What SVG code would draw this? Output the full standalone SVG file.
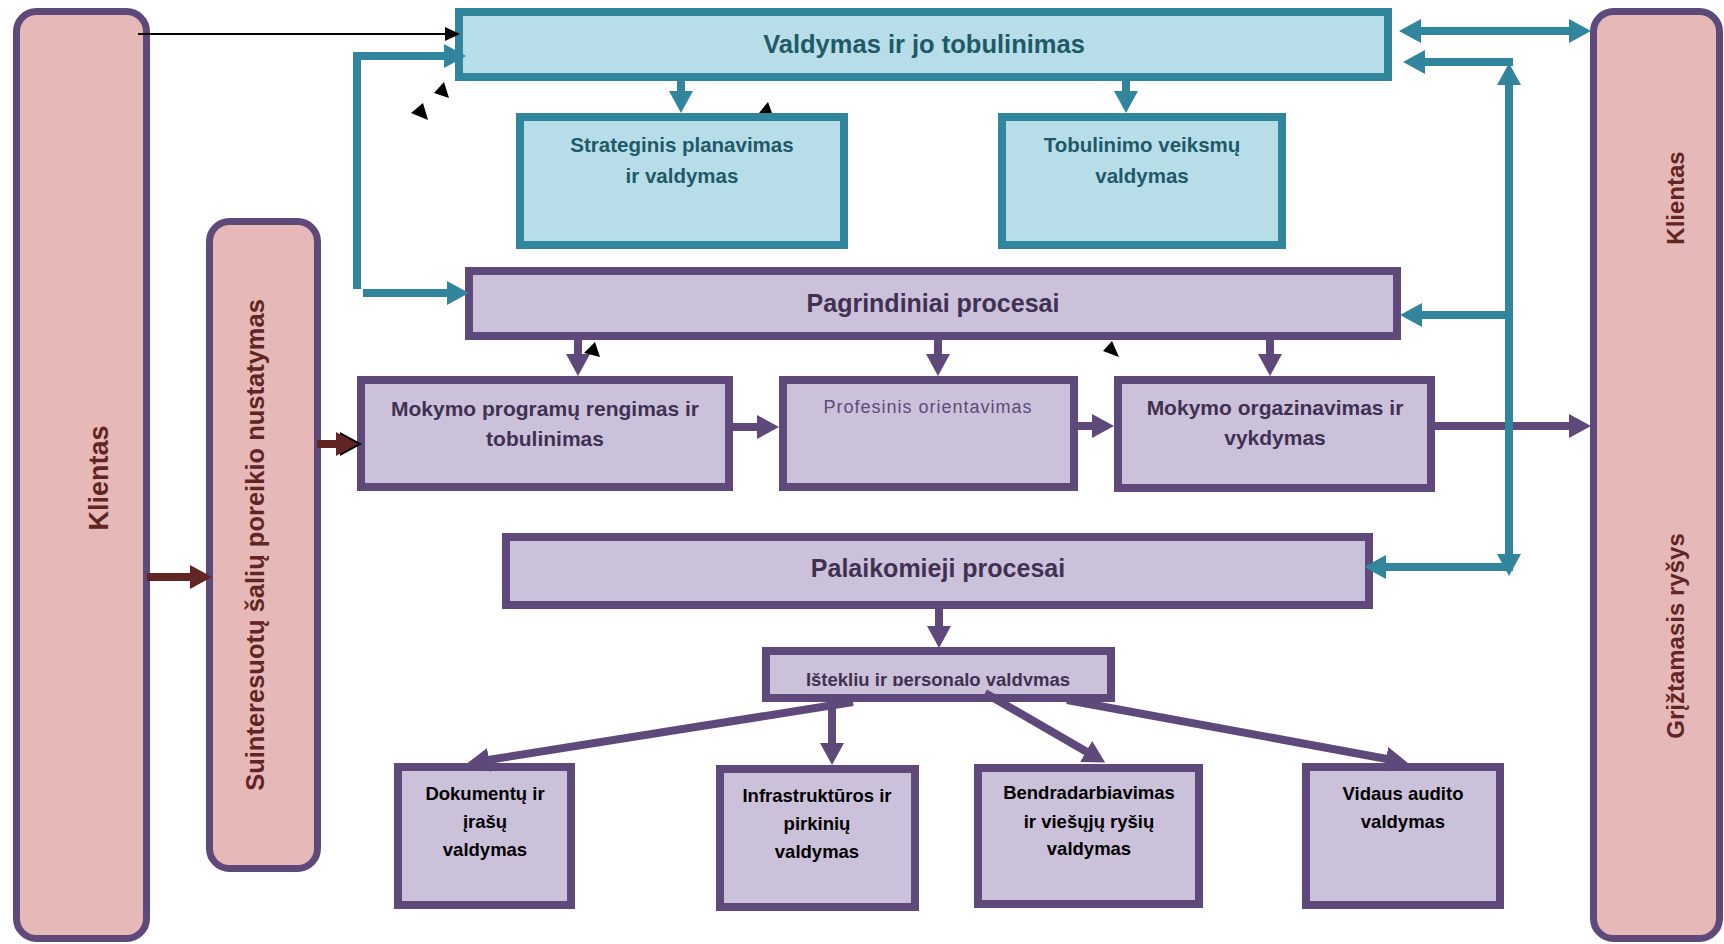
<svg xmlns="http://www.w3.org/2000/svg" width="1724" height="944" viewBox="0 0 1724 944">
<style>
text{font-family:"Liberation Sans",Arial,sans-serif;font-weight:bold;text-anchor:middle}
.tealbox{fill:#B7DEE8;stroke:#31859C;stroke-width:8}
.purbox{fill:#CCC1DA;stroke:#5F497A;stroke-width:8}
.pink{fill:#E6B9B8;stroke:#5F497A;stroke-width:7}
.tt{fill:#215968}
.pt{fill:#403152}
.bt{fill:#000000;font-size:18.5px}
.rt{fill:#632523}
.ct{fill:none;stroke:#31859C;stroke-width:8}
.cp{fill:none;stroke:#5F497A;stroke-width:8}
.cr{fill:none;stroke:#632523;stroke-width:8}
.cb{fill:none;stroke:#000000;stroke-width:2}
</style>
<defs>
<marker id="mt" viewBox="0 0 22 24" markerWidth="22" markerHeight="24" refX="1" refY="12" orient="auto-start-reverse" markerUnits="userSpaceOnUse"><path d="M0,0 L22,12 L0,24 Z" fill="#31859C"/></marker>
<marker id="mp" viewBox="0 0 22 24" markerWidth="22" markerHeight="24" refX="1" refY="12" orient="auto-start-reverse" markerUnits="userSpaceOnUse"><path d="M0,0 L22,12 L0,24 Z" fill="#5F497A"/></marker>
<marker id="mr" viewBox="0 0 22 24" markerWidth="22" markerHeight="24" refX="1" refY="12" orient="auto-start-reverse" markerUnits="userSpaceOnUse"><path d="M0,0 L22,12 L0,24 Z" fill="#632523"/></marker>
<marker id="mb" viewBox="0 0 15 14" markerWidth="15" markerHeight="14" refX="1" refY="7" orient="auto" markerUnits="userSpaceOnUse"><path d="M0,0 L15,7 L0,14 Z" fill="#000000"/></marker>
<clipPath id="clipIst"><rect x="766" y="651" width="345" height="35"/></clipPath>
</defs>

<g id="klientas-left">
<rect class="pink" x="16.5" y="11.5" width="130" height="927" rx="20"/>
<text class="rt" font-size="27" transform="translate(108,478) rotate(-90)">Klientas</text>
</g>

<g id="suinteresuotu">
<rect class="pink" x="209.5" y="221.5" width="108" height="647" rx="20"/>
<text class="rt" font-size="25.5" transform="translate(264,545) rotate(-90)">Suinteresuotų šalių poreikio nustatymas</text>
</g>

<g id="klientas-right">
<rect class="pink" x="1593.5" y="11.5" width="126" height="927" rx="20"/>
<text class="rt" font-size="24" transform="translate(1684,198) rotate(-90)">Klientas</text>
<text class="rt" font-size="24" transform="translate(1684,636) rotate(-90)">Grįžtamasis ryšys</text>
</g>

<g id="valdymas">
<rect class="tealbox" x="459" y="12" width="929" height="65"/>
<text class="tt" font-size="25.5" x="924" y="53">Valdymas ir jo tobulinimas</text>
</g>

<g id="strateginis">
<rect class="tealbox" x="520" y="117" width="324" height="128"/>
<text class="tt" font-size="20.5" x="682" y="152">Strateginis planavimas</text>
<text class="tt" font-size="20.5" x="682" y="183">ir valdymas</text>
</g>

<g id="tobulinimo">
<rect class="tealbox" x="1002" y="117" width="280" height="128"/>
<text class="tt" font-size="20.5" x="1142" y="152">Tobulinimo veiksmų</text>
<text class="tt" font-size="20.5" x="1142" y="183">valdymas</text>
</g>

<g id="pagrindiniai">
<rect class="purbox" x="469" y="271" width="928" height="65"/>
<text class="pt" font-size="25" x="933" y="312">Pagrindiniai procesai</text>
</g>

<g id="mokymo-programu">
<rect class="purbox" x="361" y="380" width="368" height="107"/>
<text class="pt" font-size="21" x="545" y="416">Mokymo programų rengimas ir</text>
<text class="pt" font-size="21" x="545" y="446">tobulinimas</text>
</g>

<g id="profesinis">
<rect class="purbox" x="783" y="380" width="291" height="107"/>
<text font-size="18" font-weight="normal" style="font-weight:normal;letter-spacing:1px" fill="#5F497A" x="928" y="413">Profesinis orientavimas</text>
</g>

<g id="mokymo-organizavimas">
<rect class="purbox" x="1118" y="380" width="313" height="108"/>
<text class="pt" font-size="21" x="1275" y="415">Mokymo orgazinavimas ir</text>
<text class="pt" font-size="21" x="1275" y="445">vykdymas</text>
</g>

<g id="palaikomieji">
<rect class="purbox" x="506" y="537" width="863" height="68"/>
<text class="pt" font-size="25" x="938" y="577">Palaikomieji procesai</text>
</g>

<g id="istekliu">
<rect class="purbox" x="766" y="651" width="345" height="47"/>
<text class="pt" font-size="18.5" x="938" y="686" clip-path="url(#clipIst)">Ištekliu ir personalo valdymas</text>
</g>

<g id="dokumentu">
<rect class="purbox" x="398" y="767" width="173" height="138"/>
<text class="bt" x="485" y="800">Dokumentų ir</text>
<text class="bt" x="485" y="828">įrašų</text>
<text class="bt" x="485" y="856">valdymas</text>
</g>

<g id="infrastrukturos">
<rect class="purbox" x="720" y="769" width="195" height="138"/>
<text class="bt" x="817" y="802">Infrastruktūros ir</text>
<text class="bt" x="817" y="830">pirkinių</text>
<text class="bt" x="817" y="858">valdymas</text>
</g>

<g id="bendradarbiavimas">
<rect class="purbox" x="978" y="768" width="221" height="136"/>
<text class="bt" x="1089" y="799">Bendradarbiavimas</text>
<text class="bt" x="1089" y="828">ir viešųjų ryšių</text>
<text class="bt" x="1089" y="855">valdymas</text>
</g>

<g id="vidaus-audito">
<rect class="purbox" x="1306" y="767" width="194" height="138"/>
<text class="bt" x="1403" y="800">Vidaus audito</text>
<text class="bt" x="1403" y="828">valdymas</text>
</g>

<g id="connectors">
<path class="cp" d="M578,340 V355" marker-end="url(#mp)"/>
<path class="cp" d="M938,340 V355" marker-end="url(#mp)"/>
<path class="cp" d="M1270,340 V355" marker-end="url(#mp)"/>
<path class="cp" d="M733,427 H758" marker-end="url(#mp)"/>
<path class="cp" d="M1078,426 H1093" marker-end="url(#mp)"/>
<path class="cp" d="M1435,426 H1570" marker-end="url(#mp)"/>
<path class="cp" d="M939,609 V627" marker-end="url(#mp)"/>
<path class="cp" d="M853,702 L488,760" marker-end="url(#mp)"/>
<path class="cp" d="M832,702 V744" marker-end="url(#mp)"/>
<path class="cp" d="M985,693 L1087,752" marker-end="url(#mp)"/>
<path class="cp" d="M1067,700 L1387,759" marker-end="url(#mp)"/>

<path class="ct" d="M681,81 V92" marker-end="url(#mt)"/>
<path class="ct" d="M1126,81 V92" marker-end="url(#mt)"/>
<path class="ct" d="M357,52 V289"/>
<path class="ct" d="M353,56 H445" marker-end="url(#mt)"/>
<path class="ct" d="M363,293 H448" marker-end="url(#mt)"/>
<path class="ct" d="M1420,31 H1570" marker-start="url(#mt)" marker-end="url(#mt)"/>
<path class="ct" d="M1509,555 V84" marker-start="url(#mt)" marker-end="url(#mt)"/>
<path class="ct" d="M1513,62 H1424" marker-end="url(#mt)"/>
<path class="ct" d="M1513,315 H1421" marker-end="url(#mt)"/>
<path class="ct" d="M1513,567 H1385" marker-end="url(#mt)"/>

<path class="cr" d="M147,577 H191" marker-end="url(#mr)"/>
<polygon points="340,432 362,444 340,456" fill="#000000"/>
<path class="cr" d="M317,444 H337" marker-end="url(#mr)"/>

<path class="cb" d="M138,34 H446" marker-end="url(#mb)"/>

<polygon points="444,82 434,93 449,98" fill="#000000"/>
<polygon points="423,103 411,113 428,120" fill="#000000"/>
<polygon points="768,102 759,113 772,113" fill="#000000"/>
<polygon points="595,342 584,353 600,357" fill="#000000"/>
<polygon points="1112,341 1103,351 1119,357" fill="#000000"/>
</g>
</svg>
